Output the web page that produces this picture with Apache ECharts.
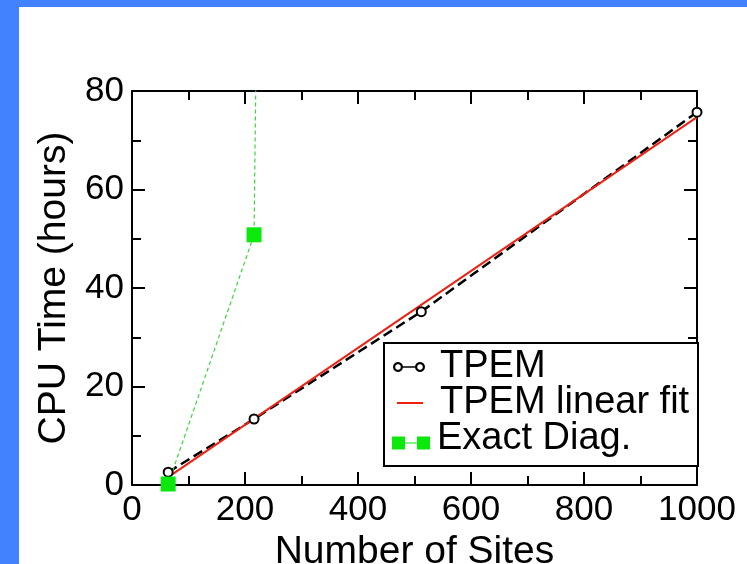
<!DOCTYPE html>
<html>
<head>
<meta charset="utf-8">
<script src="https://cdn.jsdelivr.net/npm/echarts@6/dist/echarts.min.js"></script>
<style>
  html, body { margin: 0; padding: 0; background: #fff; }
  #main { width: 747px; height: 564px; }
</style>
</head>
<body>
<div id="main"></div>
<script>
// 数据
const tpemSites = [64, 216, 512, 1000]
const tpemHours = [2.6, 13.4, 35.2, 75.7]
const fitSites = [64, 1000]
const fitHours = [1.6, 74.7]
const exactSites = [64, 216, 222]
const exactHours = [0.2, 50.8, 110]
const xTicks = [0, 200, 400, 600, 800, 1000]
const yTicks = [0, 20, 40, 60, 80]

const FONT = 'Liberation Sans'

function pairs(xs, ys) {
    let out = []
    for (let i = 0; i < xs.length; i++) {
        out.push([xs[i], ys[i]])
    }
    return out
}

// 空心圆环的图标路径（外圈顺时针，内圈逆时针）
function ring(cx, cy, r1, r2) {
    let n = 20
    let s = ''
    for (let i = 0; i < n; i++) {
        let a = i / n * Math.PI * 2
        s += (i === 0 ? 'M' : 'L') + (cx + r1 * Math.cos(a)).toFixed(2) + ',' + (cy + r1 * Math.sin(a)).toFixed(2)
    }
    s += 'Z'
    for (let i = 0; i < n; i++) {
        let a = -i / n * Math.PI * 2
        s += (i === 0 ? 'M' : 'L') + (cx + r2 * Math.cos(a)).toFixed(2) + ',' + (cy + r2 * Math.sin(a)).toFixed(2)
    }
    return s + 'Z'
}
const tpemIcon = 'path://' + ring(5, 5, 5, 2.8) + ring(27, 5, 5, 2.8) + 'M10,4.2H22V5.8H10Z'

// 坐标轴公共样式
function axis(pos, ticks, showLabel) {
    return {
        type: 'value',
        position: pos,
        min: ticks[0],
        max: ticks[ticks.length - 1],
        interval: ticks[1] - ticks[0],
        axisLine: { show: true, onZero: false, lineStyle: { color: '#000', width: 2 } },
        axisTick: { show: true, inside: true, length: 13, lineStyle: { color: '#000', width: 2 } },
        minorTick: { show: true, splitNumber: 2, length: 9, lineStyle: { color: '#000', width: 2 } },
        splitLine: { show: false },
        axisLabel: {
            show: showLabel, color: '#000', fontSize: 35, fontFamily: FONT, margin: 8,
            formatter: function (v) { return String(v) }
        }
    }
}

let xBottom = axis('bottom', xTicks, true)
xBottom.name = 'Number of Sites'
xBottom.nameLocation = 'middle'
xBottom.nameGap = 41
xBottom.nameTextStyle = { color: '#000', fontSize: 39, fontFamily: FONT }

let yLeft = axis('left', yTicks, true)
yLeft.name = 'CPU Time (hours)'
yLeft.nameLocation = 'middle'
yLeft.nameGap = 55
yLeft.nameTextStyle = { color: '#000', fontSize: 39, fontFamily: FONT }

// 图例
function legend(name, left, top, w, h, icon, style, pad) {
    return {
        show: true,
        left: left,
        top: top,
        padding: 0,
        itemWidth: w,
        itemHeight: h,
        selectedMode: false,
        textStyle: { color: '#000', fontSize: 38, fontFamily: FONT, lineHeight: 37, padding: [0, 0, 0, pad] },
        data: [{ name: name, icon: icon, itemStyle: style }]
    }
}

let myChart = echarts.init(document.getElementById('main'))
let option = {
    animation: false,
    backgroundColor: '#fff',
    grid: { left: 132, top: 91, right: 50, bottom: 79, containLabel: false, outerBoundsMode: 'none' },
    xAxis: [xBottom, axis('top', xTicks, false)],
    yAxis: [yLeft, axis('right', yTicks, false)],
    legend: [
        legend('TPEM', 393, 348, 32, 10, tpemIcon,
            { color: '#000', borderWidth: 0 }, 10),
        legend('TPEM linear fit', 397, 384, 26, 2,
            'path://M0,0H26V2H0Z',
            { color: '#ee2211', borderWidth: 0 }, 12),
        legend('Exact Diag.', 392, 420, 38, 21,
            'path://M0,-8M0,0H13V13H0Z M25,0H38V13H25Z M13,6H25V7H13Z',
            { color: '#0be80b', borderWidth: 0 }, 2)
    ],
    graphic: [
        // 图例边框
        { type: 'rect', z: 3, shape: { x: 384, y: 343, width: 314, height: 123 },
          style: { fill: '#fff', stroke: '#000', lineWidth: 2 } },
        // 蓝色边条
        { type: 'rect', z: 10, shape: { x: 0, y: 0, width: 747, height: 7 }, style: { fill: '#4281ff' } },
        { type: 'rect', z: 10, shape: { x: 0, y: 0, width: 19, height: 564 }, style: { fill: '#4281ff' } }
    ],
    series: [
        {
            name: 'TPEM',
            type: 'line',
            data: pairs(tpemSites, tpemHours),
            symbol: 'emptyCircle',
            symbolSize: 9,
            itemStyle: { color: '#000', borderWidth: 2.5 },
            lineStyle: { color: '#000', width: 2.5, type: [10, 5] },
            z: 2
        },
        {
            name: 'TPEM linear fit',
            type: 'line',
            data: pairs(fitSites, fitHours),
            showSymbol: false,
            symbol: 'none',
            lineStyle: { color: '#ee2211', width: 2 },
            itemStyle: { color: '#ee2211' },
            z: 2
        },
        {
            name: 'Exact Diag.',
            type: 'line',
            data: pairs(exactSites, exactHours),
            symbol: 'rect',
            symbolSize: 15,
            clip: true,
            itemStyle: { color: '#0be80b' },
            lineStyle: { color: '#3ad83a', width: 1.2, type: [4, 3] },
            z: 2
        }
    ]
}
myChart.setOption(option)
</script>
</body>
</html>
